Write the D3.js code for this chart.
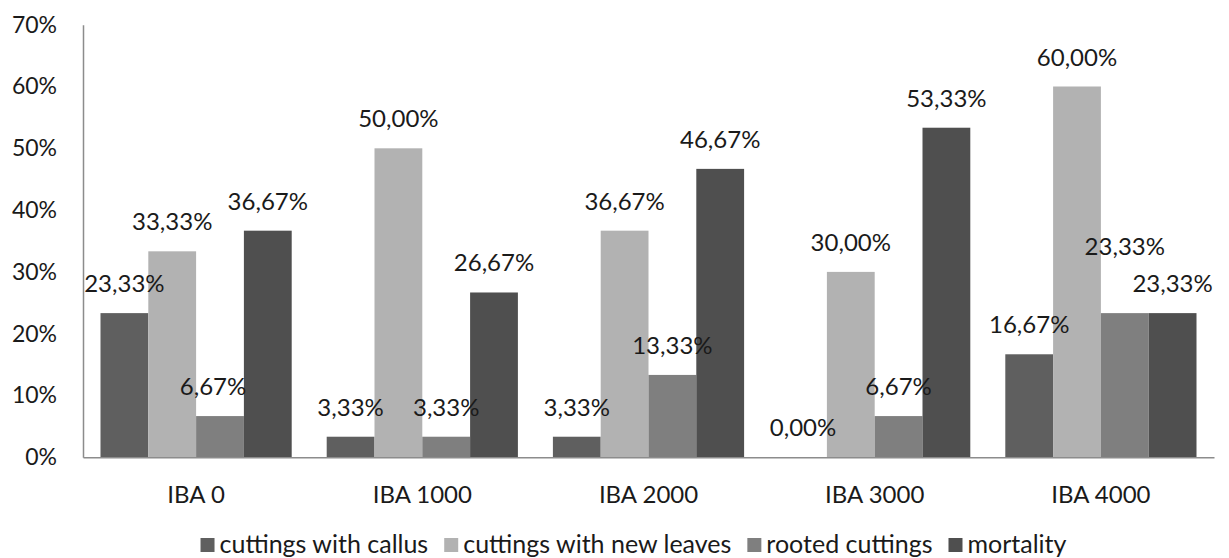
<!DOCTYPE html>
<html>
<head>
<meta charset="utf-8">
<script src="https://cdn.jsdelivr.net/npm/d3@7"></script>
<style>
  html, body { margin: 0; padding: 0; background: #ffffff; }
  svg { display: block; }
  text { font-family: Lato, "Liberation Sans", sans-serif; fill: #1a1a1a; }
</style>
</head>
<body>
<svg id="chart" width="1229" height="558"></svg>
<script>
// Treatments (IBA concentration, ppm)
const categories = ["IBA 0", "IBA 1000", "IBA 2000", "IBA 3000", "IBA 4000"];

// Response series, percent of cuttings
const seriesNames = ["cuttings with callus", "cuttings with new leaves", "rooted cuttings", "mortality"];
const callus     = [23.33, 3.33, 3.33, 0.00, 16.67];
const newLeaves  = [33.33, 50.00, 36.67, 30.00, 60.00];
const rooted     = [6.67, 3.33, 13.33, 6.67, 23.33];
const mortality  = [36.67, 26.67, 46.67, 53.33, 23.33];

const yTicks = [0, 10, 20, 30, 40, 50, 60, 70];

const seriesValues = [callus, newLeaves, rooted, mortality];
const colors = ["#5f5f5f", "#b2b2b2", "#7f7f7f", "#4f4f4f"];

const svg = d3.select("#chart");
const W = 1229, H = 558;
const margin = { top: 24.7, right: 15, bottom: H - 457.3, left: 83 };

const x = d3.scaleBand()
  .domain(categories)
  .range([margin.left, W - margin.right])
  .paddingInner(0).paddingOuter(0);

const pad = 17.5;
const xs = d3.scaleBand()
  .domain(seriesNames)
  .range([pad, x.bandwidth() - pad])
  .padding(0);

const y = d3.scaleLinear()
  .domain([0, 70])
  .range([H - margin.bottom, margin.top]);

const fmt = v => v.toFixed(2).replace(".", ",") + "%";

// Flattened rows for drawing
const rows = [];
seriesNames.forEach((s, si) => {
  categories.forEach((c, ci) => {
    rows.push({ series: s, si, cat: c, value: seriesValues[si][ci] });
  });
});

// Bars
svg.append("g")
  .selectAll("rect")
  .data(rows)
  .join("rect")
  .attr("x", d => x(d.cat) + xs(d.series))
  .attr("y", d => y(d.value))
  .attr("width", xs.bandwidth())
  .attr("height", d => y(0) - y(d.value))
  .attr("fill", d => colors[d.si]);

// Axes
const axisColor = "#8c8c8c";
const yAxis = svg.append("g")
  .attr("transform", `translate(${margin.left},0)`)
  .call(d3.axisLeft(y).tickValues(yTicks).tickSize(0).tickPadding(26).tickFormat(d => d + "%"));
yAxis.select(".domain").attr("stroke", axisColor).attr("stroke-width", 1.5);
yAxis.selectAll("text").attr("font-size", 23).attr("fill", "#1a1a1a")
  .attr("font-family", "Lato, 'Liberation Sans', sans-serif");

const xAxis = svg.append("g")
  .attr("transform", `translate(0,${y(0)})`)
  .call(d3.axisBottom(x).tickSize(0).tickPadding(29));
xAxis.select(".domain").attr("stroke", axisColor).attr("stroke-width", 1.5);
xAxis.selectAll("text").attr("font-size", 24).attr("fill", "#1a1a1a")
  .attr("font-family", "Lato, 'Liberation Sans', sans-serif");

// Value labels; a couple are shifted so they do not collide
const nudge = {
  "IBA 4000|rooted cuttings": { dx: 0, dy: -37 },
  "IBA 0|rooted cuttings": { dx: -7, dy: 0 }
};
svg.append("g")
  .selectAll("text")
  .data(rows)
  .join("text")
  .attr("text-anchor", "middle")
  .attr("font-size", 24)
  .attr("x", d => x(d.cat) + xs(d.series) + xs.bandwidth() / 2 + ((nudge[d.cat + "|" + d.series] || {}).dx || 0))
  .attr("y", d => y(d.value) - 21 + ((nudge[d.cat + "|" + d.series] || {}).dy || 0))
  .text(d => fmt(d.value));

// Legend
const legend = svg.append("g").attr("transform", "translate(0,553)");
const items = legend.selectAll("g")
  .data(seriesNames)
  .join("g");
items.append("rect")
  .attr("y", -15).attr("width", 14).attr("height", 14)
  .attr("fill", (d, i) => colors[i]);
items.append("text")
  .attr("x", 19)
  .attr("font-size", 25)
  .text(d => d);
let cursor = 0;
const gap = 16;
const widths = [];
items.each(function () {
  const w = 19 + this.querySelector("text").getComputedTextLength();
  widths.push(w);
});
const total = d3.sum(widths) + gap * (widths.length - 1);
cursor = (199 + 1068) / 2 - total / 2;
items.attr("transform", (d, i) => {
  const t = `translate(${cursor},0)`;
  cursor += widths[i] + gap;
  return t;
});
</script>
</body>
</html>
